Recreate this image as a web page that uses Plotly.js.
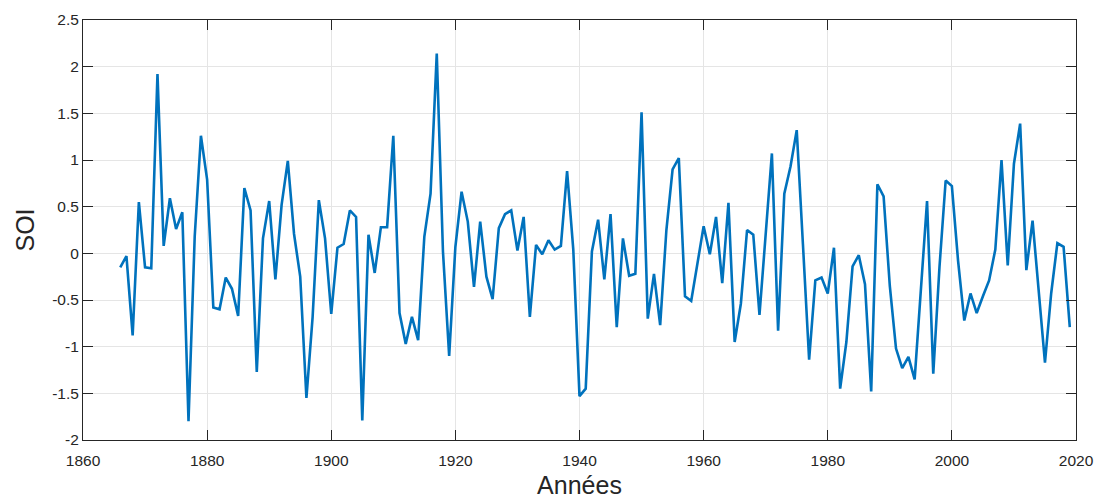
<!DOCTYPE html>
<html>
<head>
<meta charset="utf-8">
<script src="https://cdn.plot.ly/plotly-3.0.1.min.js"></script>
<style>html,body{margin:0;padding:0;background:#fff;}#chart{width:1097px;height:499px;}</style>
</head>
<body>
<div id="chart"></div>
<script>
const startYear = 1866;
const soi = [
  -0.15, -0.03, -0.88, 0.55, -0.15, -0.16, 1.92, 0.08, 0.59, 0.26,
  0.44, -1.80, 0.18, 1.26, 0.79, -0.58, -0.60, -0.26, -0.38, -0.67,
  0.70, 0.46, -1.27, 0.16, 0.56, -0.28, 0.52, 0.99, 0.21, -0.25,
  -1.55, -0.68, 0.57, 0.16, -0.65, 0.06, 0.10, 0.46, 0.39, -1.79,
  0.20, -0.21, 0.28, 0.28, 1.26, -0.64, -0.97, -0.68, -0.93, 0.18,
  0.64, 2.14, 0.02, -1.10, 0.07, 0.66, 0.34, -0.36, 0.34, -0.25,
  -0.49, 0.27, 0.42, 0.46, 0.03, 0.39, -0.68, 0.09, -0.01, 0.14,
  0.04, 0.08, 0.88, 0.04, -1.53, -1.45, 0.02, 0.36, -0.28, 0.42,
  -0.79, 0.16, -0.24, -0.22, 1.51, -0.70, -0.22, -0.77, 0.25, 0.90,
  1.02, -0.46, -0.51, -0.11, 0.29, -0.01, 0.39, -0.32, 0.54, -0.95,
  -0.54, 0.25, 0.20, -0.66, 0.20, 1.07, -0.83, 0.64, 0.93, 1.32,
  0.10, -1.14, -0.29, -0.26, -0.43, 0.06, -1.45, -0.95, -0.14, -0.02,
  -0.33, -1.48, 0.74, 0.61, -0.35, -1.02, -1.23, -1.11, -1.35, -0.40,
  0.56, -1.29, -0.15, 0.78, 0.72, -0.08, -0.72, -0.43, -0.64, -0.46,
  -0.29, 0.04, 1.00, -0.13, 0.96, 1.39, -0.18, 0.35, -0.40, -1.17,
  -0.43, 0.11, 0.07, -0.79
];
const years = soi.map((_, i) => startYear + i);

const xTickVals = [1860, 1880, 1900, 1920, 1940, 1960, 1980, 2000, 2020];
const xTickText = ["1860", "1880", "1900", "1920", "1940", "1960", "1980", "2000", "2020"];
const yTickVals = [-2, -1.5, -1, -0.5, 0, 0.5, 1, 1.5, 2, 2.5];
const yTickText = ["-2", "-1.5", "-1", "-0.5", "0", "0.5", "1", "1.5", "2", "2.5"];

const FONT = "Liberation Sans, Arial, sans-serif";
const TXT = "#262626";

const trace = {
  x: years, y: soi, type: "scatter", mode: "lines",
  line: {color: "#0072BD", width: 2.6},
  hoverinfo: "x+y"
};

const axisCommon = {
  showline: true, linecolor: TXT, linewidth: 1, mirror: "ticks",
  ticks: "inside", ticklen: 10, tickwidth: 1, tickcolor: TXT,
  showgrid: true, gridcolor: "#e5e5e5", gridwidth: 1,
  zeroline: false,
  tickfont: {family: FONT, size: 15.5, color: TXT},
  automargin: false
};

const layout = {
  width: 1097, height: 499,
  margin: {l: 83, r: 21, t: 20, b: 59},
  paper_bgcolor: "#fff", plot_bgcolor: "#fff",
  showlegend: false,
  xaxis: Object.assign({}, axisCommon, {
    range: [1860, 2020], tickmode: "array", tickvals: xTickVals, ticktext: xTickText,
    ticklabelstandoff: 6,
    title: {text: "Années", font: {family: FONT, size: 25, color: TXT}, standoff: 12}
  }),
  yaxis: Object.assign({}, axisCommon, {
    range: [-2, 2.5], tickmode: "array", tickvals: yTickVals, ticktext: yTickText,
    title: {text: "SOI", font: {family: FONT, size: 25, color: TXT}, standoff: 10}
  })
};

Plotly.newPlot("chart", [trace], layout, {displayModeBar: false, staticPlot: true});
</script>
</body>
</html>
